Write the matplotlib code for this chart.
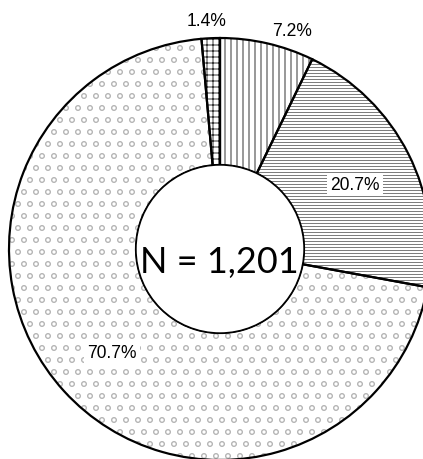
import matplotlib
matplotlib.use("Agg")
import matplotlib.pyplot as plt
from matplotlib.patches import Circle

# Share of respondents per answer (percent), clockwise from the top
labels = ["7.2%", "20.7%", "70.7%", "1.4%"]
shares = [7.2, 20.7, 70.7, 1.4]
hatches = ["||", "----", "o", "++"]
hatch_colors = ["#202020", "#707070", "#b8b8b8", "#202020"]
total_label = "N = 1,201"

W, H = 423, 459
DPI = 72
fig = plt.figure(figsize=(W / DPI, H / DPI), dpi=DPI)
ax = fig.add_axes([0, 0, 1, 1])
ax.set_xlim(0, W)
ax.set_ylim(0, H)
ax.set_aspect("equal")
ax.axis("off")

cx, cy = 220, H - 249
R_out, R_in = 211, 84

plt.rcParams["hatch.linewidth"] = 0.9

# Hatched fill of each ring segment
fills, _ = ax.pie(shares, center=(cx, cy), radius=R_out, startangle=90,
                  counterclock=False, frame=True,
                  wedgeprops=dict(width=R_out - R_in, linewidth=0))
for w, h, c in zip(fills, hatches, hatch_colors):
    w.set_facecolor("white")
    w.set_edgecolor(c)
    w.set_hatch(h)
    w.set_linewidth(0)

# Black outlines of the segments
outlines, _ = ax.pie(shares, center=(cx, cy), radius=R_out, startangle=90,
                     counterclock=False, frame=True,
                     wedgeprops=dict(width=R_out - R_in, fill=False,
                                     edgecolor="black", linewidth=2.2))

# White hub with the sample size
ax.add_patch(Circle((cx, cy), R_in, facecolor="white", edgecolor="black",
                    linewidth=1.4, zorder=5))
ax.text(cx - 1, H - 262, total_label, ha="center", va="center",
        fontsize=36, family="Lato", zorder=6)

ax.set_xlim(0, W)
ax.set_ylim(0, H)

font = dict(family="Liberation Sans", fontsize=17.5, zorder=7)
pos = {"1.4%": (207, 21), "7.2%": (292, 32), "20.7%": (355, 185), "70.7%": (112, 353)}
boxed = {"20.7%", "70.7%"}
for lab in labels:
    x, y = pos[lab]
    kw = dict(font)
    if lab in boxed:
        kw["bbox"] = dict(facecolor="white", edgecolor="none", pad=3)
    ax.text(x, H - y, lab, ha="center", va="center", **kw)

fig.savefig("out.png", dpi=DPI)
